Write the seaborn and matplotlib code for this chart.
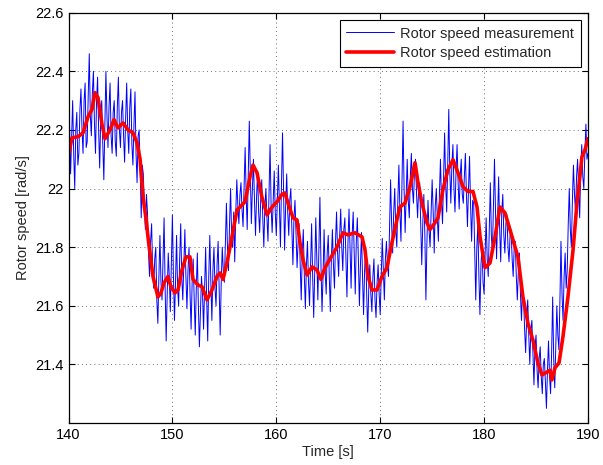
import numpy as np
import pandas as pd
import matplotlib
matplotlib.use("Agg")
import matplotlib.pyplot as plt
import seaborn as sns
from matplotlib.ticker import FuncFormatter

# ---- data ----
red_t = [140.0, 140.34, 140.91, 141.40, 141.88, 142.26, 142.55, 142.84, 143.22, 143.51,
         143.99, 144.38, 144.76, 145.25, 145.73, 146.21, 146.60, 146.89, 147.18, 147.45,
         147.70, 148.13, 148.61, 148.90, 149.19, 149.57, 149.86, 150.25, 150.54, 150.92,
         151.31, 151.69, 151.98, 152.46, 152.85, 153.33, 153.81, 154.29, 154.58, 154.87,
         155.25, 155.73, 156.22, 156.51, 156.99, 157.47, 157.76, 158.14, 158.62, 159.11,
         159.59, 160.07, 160.55, 160.84, 161.13, 161.61, 161.99, 162.28, 162.57, 162.96,
         163.44, 163.92, 164.30, 164.69, 165.17, 165.84, 166.42, 166.90, 167.57, 168.25,
         168.54, 168.83, 169.21, 169.69, 170.17, 170.65, 171.13, 171.61, 171.90, 172.38,
         172.87, 173.35, 173.64, 174.02, 174.50, 174.79, 175.27, 175.56, 176.04, 176.52,
         177.01, 177.49, 177.97, 178.45, 178.93, 179.32, 179.61, 180.09, 180.57, 181.05,
         181.53, 182.01, 182.49, 183.26, 183.74, 184.22, 184.70, 185.18, 185.57, 186.05,
         186.34, 186.53, 186.82, 187.21, 187.59, 188.07, 188.56, 188.94, 189.42, 189.71,
         190.0]
red_v = [22.115, 22.173, 22.177, 22.19, 22.245, 22.27, 22.327, 22.31, 22.22, 22.17,
         22.20, 22.235, 22.207, 22.224, 22.20, 22.19, 22.156, 22.10, 21.97, 21.90,
         21.82, 21.70, 21.63, 21.644, 21.678, 21.70, 21.665, 21.644, 21.654, 21.722,
         21.767, 21.767, 21.69, 21.671, 21.665, 21.62, 21.654, 21.70, 21.712, 21.69,
         21.746, 21.835, 21.927, 21.937, 21.955, 22.04, 22.08, 22.054, 21.97, 21.91,
         21.937, 21.955, 21.98, 21.985, 21.95, 21.90, 21.893, 21.815, 21.757, 21.705,
         21.733, 21.722, 21.69, 21.73, 21.76, 21.80, 21.849, 21.842, 21.849, 21.835,
         21.79, 21.70, 21.654, 21.654, 21.70, 21.73, 21.815, 21.893, 21.937, 21.95,
         22.006, 22.088, 22.02, 21.95, 21.883, 21.86, 21.883, 21.90, 21.996, 22.064,
         22.098, 22.054, 22.006, 21.99, 21.99, 21.937, 21.835, 21.73, 21.746, 21.835,
         21.937, 21.917, 21.86, 21.767, 21.63, 21.54, 21.483, 21.405, 21.364, 21.374,
         21.38, 21.347, 21.388, 21.405, 21.494, 21.63, 21.79, 21.95, 22.108, 22.132,
         22.17]

meas_t0 = 140.0
meas_dt = 0.1
meas_v = [
    22.38, 22.22, 22.05, 22.18, 22.30, 22.12, 22.00, 22.20, 22.26, 22.08,  # 140
    22.12, 22.27, 22.34, 22.20, 22.12, 22.30, 22.36, 22.14, 22.16, 22.32,  # 141
    22.46, 22.25, 22.18, 22.33, 22.40, 22.22, 22.12, 22.30, 22.38, 22.20,  # 142
    22.07, 22.24, 22.30, 22.15, 22.03, 22.22, 22.40, 22.25, 22.14, 22.28,  # 143
    22.36, 22.18, 22.12, 22.26, 22.30, 22.16, 22.11, 22.28, 22.38, 22.20,  # 144
    22.14, 22.26, 22.30, 22.18, 22.09, 22.24, 22.36, 22.20, 22.12, 22.28,  # 145
    22.34, 22.15, 22.08, 22.22, 22.33, 22.12, 22.02, 22.18, 22.20, 22.06,  # 146
    21.90, 22.08, 22.05, 21.94, 21.86, 21.98, 21.92, 21.78, 21.70, 21.82,  # 147
    21.88, 21.72, 21.66, 21.76, 21.80, 21.62, 21.54, 21.70, 21.84, 21.68,  # 148
    21.62, 21.76, 21.90, 21.66, 21.48, 21.64, 21.78, 21.70, 21.58, 21.74,  # 149
    21.91, 21.70, 21.55, 21.68, 21.84, 21.66, 21.60, 21.76, 21.88, 21.70,  # 150
    21.62, 21.74, 21.86, 21.70, 21.59, 21.72, 21.80, 21.64, 21.52, 21.68,  # 151
    21.76, 21.62, 21.50, 21.66, 21.78, 21.60, 21.46, 21.58, 21.70, 21.64,  # 152
    21.52, 21.66, 21.80, 21.62, 21.48, 21.70, 21.84, 21.68, 21.55, 21.72,  # 153
    21.80, 21.66, 21.60, 21.74, 21.82, 21.66, 21.50, 21.68, 21.80, 21.72,  # 154
    21.68, 21.82, 21.95, 21.80, 21.72, 21.88, 22.00, 21.84, 21.80, 21.92,  # 155
    21.75, 21.92, 22.03, 21.94, 21.88, 21.98, 22.02, 21.93, 21.87, 22.00,  # 156
    22.14, 21.98, 21.86, 22.04, 22.23, 22.06, 21.88, 22.00, 22.10, 21.96,  # 157
    21.84, 21.97, 22.06, 21.92, 21.85, 21.96, 22.03, 21.90, 21.80, 21.94,  # 158
    22.00, 21.90, 21.82, 21.98, 22.15, 21.94, 21.85, 21.96, 22.06, 21.92,  # 159
    21.84, 21.96, 22.08, 21.94, 21.80, 22.02, 22.19, 21.98, 21.79, 21.94,  # 160
    22.05, 21.92, 21.84, 21.96, 22.00, 21.86, 21.74, 21.90, 21.96, 21.84,  # 161
    21.73, 21.82, 21.88, 21.74, 21.62, 21.78, 21.86, 21.70, 21.59, 21.74,  # 162
    21.82, 21.68, 21.60, 21.74, 21.88, 21.70, 21.56, 21.72, 21.90, 21.76,  # 163
    21.62, 21.80, 21.97, 21.74, 21.58, 21.70, 21.86, 21.72, 21.64, 21.78,  # 164
    21.84, 21.70, 21.58, 21.76, 21.86, 21.74, 21.66, 21.82, 21.92, 21.78,  # 165
    21.70, 21.84, 21.93, 21.80, 21.72, 21.86, 21.90, 21.76, 21.63, 21.82,  # 166
    21.93, 21.80, 21.66, 21.84, 21.92, 21.78, 21.64, 21.82, 21.90, 21.76,  # 167
    21.60, 21.74, 21.85, 21.70, 21.57, 21.72, 21.80, 21.64, 21.51, 21.66,  # 168
    21.74, 21.64, 21.58, 21.70, 21.76, 21.62, 21.56, 21.68, 21.74, 21.64,  # 169
    21.57, 21.70, 21.83, 21.72, 21.62, 21.76, 21.82, 21.74, 21.70, 21.86,  # 170
    22.03, 21.88, 21.78, 21.92, 22.00, 21.86, 21.80, 21.96, 22.08, 21.92,  # 171
    21.82, 22.02, 22.23, 22.00, 21.85, 21.98, 22.10, 21.96, 21.90, 22.04,  # 172
    22.12, 22.00, 21.95, 22.06, 22.10, 21.98, 21.90, 22.00, 22.02, 21.88,  # 173
    21.74, 21.88, 21.98, 21.84, 21.62, 21.82, 21.96, 21.86, 21.80, 21.92,  # 174
    22.03, 21.92, 21.78, 21.94, 22.00, 21.90, 21.82, 21.98, 22.10, 21.96,  # 175
    21.88, 22.04, 22.19, 22.02, 21.92, 22.08, 22.27, 22.06, 21.95, 22.08,  # 176
    22.15, 22.00, 21.92, 22.06, 22.15, 22.02, 21.93, 22.04, 22.10, 21.98,  # 177
    21.95, 22.04, 22.12, 21.98, 21.87, 22.00, 22.11, 21.94, 21.82, 21.96,  # 178
    21.95, 21.78, 21.62, 21.80, 21.88, 21.70, 21.57, 21.74, 21.80, 21.68,  # 179
    21.64, 21.78, 21.90, 21.76, 21.70, 21.86, 22.02, 21.84, 21.78, 21.94,  # 180
    22.10, 21.92, 21.76, 21.90, 22.04, 21.86, 21.75, 21.92, 21.98, 21.84,  # 181
    21.78, 21.88, 21.91, 21.80, 21.75, 21.84, 21.86, 21.76, 21.70, 21.80,  # 182
    21.82, 21.70, 21.62, 21.72, 21.78, 21.64, 21.55, 21.66, 21.63, 21.52,  # 183
    21.44, 21.56, 21.62, 21.50, 21.40, 21.52, 21.55, 21.44, 21.33, 21.46,  # 184
    21.50, 21.38, 21.32, 21.42, 21.46, 21.36, 21.30, 21.40, 21.42, 21.34,  # 185
    21.25, 21.38, 21.48, 21.36, 21.30, 21.44, 21.63, 21.42, 21.32, 21.46,  # 186
    21.60, 21.50, 21.45, 21.62, 21.82, 21.64, 21.55, 21.70, 21.78, 21.66,  # 187
    21.72, 21.88, 22.00, 21.86, 21.80, 21.96, 22.08, 21.98, 21.92, 22.04,  # 188
    22.10, 22.00, 21.90, 22.06, 22.15, 22.04, 22.00, 22.12, 22.22, 22.10,  # 189
    22.12,                                                                 # 190
]
meas_t = [round(meas_t0 + i * meas_dt, 2) for i in range(len(meas_v))]

x_ticks = [140, 150, 160, 170, 180, 190]
y_ticks = [21.4, 21.6, 21.8, 22.0, 22.2, 22.4, 22.6]
labels = ["Rotor speed measurement", "Rotor speed estimation"]

# ---- style ----
sns.set_style("ticks")
plt.rcParams["font.family"] = ["Liberation Sans", "DejaVu Sans"]
plt.rcParams["font.size"] = 10.5

fig = plt.figure(figsize=(6.03, 4.65), dpi=100)
ax = fig.add_axes([0.1136, 0.0903, 0.8615, 0.8824])

df_meas = pd.DataFrame({"t": meas_t, "v": meas_v})
df_est = pd.DataFrame({"t": red_t, "v": red_v})

sns.lineplot(data=df_meas, x="t", y="v", ax=ax, color="#0000ff", linewidth=0.7,
             estimator=None, label=labels[0])
sns.lineplot(data=df_est, x="t", y="v", ax=ax, color="#ff0000", linewidth=2.6,
             estimator=None, label=labels[1])

ax.set_xlim(140, 190)
ax.set_ylim(21.2, 22.6)
ax.set_xticks(x_ticks)
ax.set_yticks(y_ticks)
ax.yaxis.set_major_formatter(FuncFormatter(lambda v, p: f"{v:g}"))
ax.grid(True, linestyle=(0, (1, 4)), color="#444444", linewidth=0.6)
ax.tick_params(direction="in", top=True, right=True, length=4, width=0.8,
               labelsize=10.5, colors="black")
for s in ax.spines.values():
    s.set_visible(True)
    s.set_color("black")
    s.set_linewidth(0.9)

ax.set_xlabel("Time [s]", fontsize=10.5, labelpad=2)
ax.set_ylabel("Rotor speed [rad/s]", fontsize=10.5, labelpad=4)

leg = ax.legend(loc="upper right", fancybox=False, edgecolor="black", framealpha=1,
                handlelength=3.3, borderaxespad=0.5, fontsize=10.5,
                labelspacing=0.4, borderpad=0.45, handletextpad=0.4)
leg.get_frame().set_linewidth(0.8)

fig.savefig("out.png", dpi=100)
